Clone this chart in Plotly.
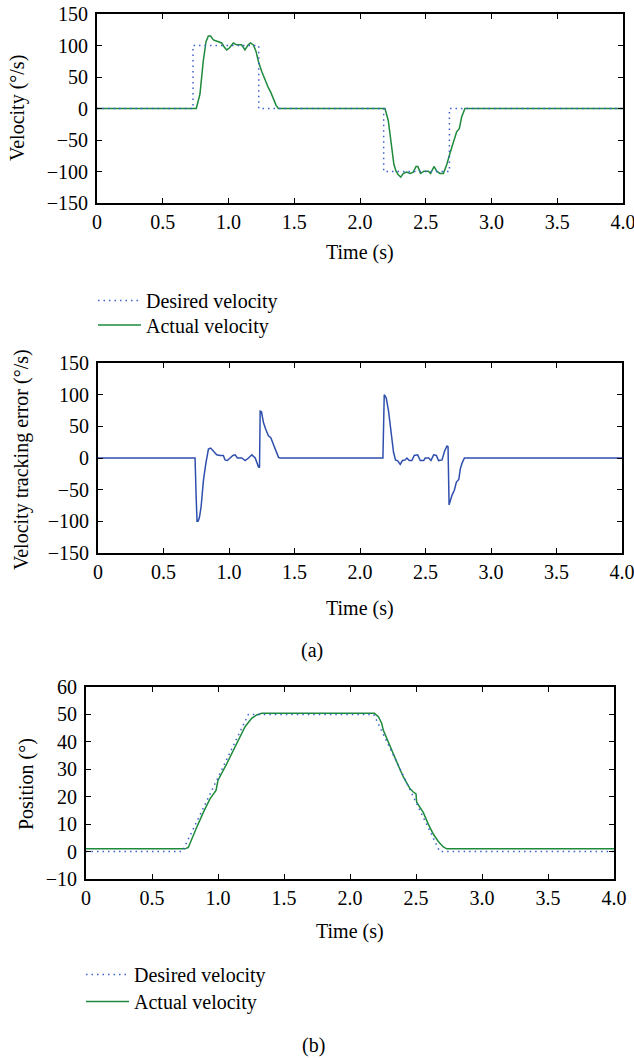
import plotly.graph_objects as go

# ---------------- data ----------------
# desired velocity (deg/s)
t_vel_desired = [0, 0.73, 0.73, 1.23, 1.23, 2.18, 2.18, 2.68, 2.68, 4.0]
vel_desired = [0, 0, 100, 100, 0, 0, -100, -100, 0, 0]

# actual velocity (deg/s)
t_vel_actual = [0, 0.755, 0.783, 0.808, 0.829, 0.847, 0.864, 0.885, 0.923, 0.948,
                0.966, 0.986, 1.006, 1.037, 1.062, 1.10, 1.125, 1.15, 1.168, 1.189,
                1.209, 1.227, 1.252, 1.278, 1.303, 1.321, 1.341, 1.362, 1.379,
                2.19, 2.215, 2.24, 2.258, 2.274, 2.29, 2.31, 2.33, 2.355, 2.38,
                2.405, 2.426, 2.44, 2.46, 2.487, 2.52, 2.537, 2.563, 2.583, 2.608,
                2.634, 2.66, 2.684, 2.71, 2.735, 2.755, 2.773, 2.798, 4.0]
vel_actual = [0, 0, 23, 75, 106, 115, 115, 109, 106, 104,
              98, 93, 96, 104, 101, 101, 93, 101, 104, 101,
              91, 75, 59, 44, 33, 26, 15, 5, 0,
              0, -19, -60, -89, -99.5, -105, -109, -103, -101, -103,
              -101, -92, -92, -103, -99.5, -99.5, -103, -92, -99.5, -103,
              -103, -89, -71, -55, -37, -32, -13.5, 0, 0]

# velocity tracking error (deg/s)
t_error = [0, 0.741, 0.749, 0.756, 0.764, 0.774, 0.787, 0.805, 0.823, 0.843,
           0.86, 0.881, 0.906, 0.932, 0.957, 0.97, 0.988, 1.008, 1.03, 1.047,
           1.064, 1.098, 1.123, 1.149, 1.174, 1.2, 1.225, 1.233, 1.238, 1.248,
           1.263, 1.281, 1.301, 1.319, 1.339, 1.36, 1.378, 1.39,
           2.175, 2.185, 2.2, 2.218, 2.236, 2.256, 2.271, 2.286, 2.307, 2.324,
           2.345, 2.358, 2.376, 2.396, 2.414, 2.44, 2.46, 2.486, 2.498, 2.524,
           2.542, 2.562, 2.583, 2.6, 2.626, 2.646, 2.664, 2.672, 2.68, 2.69,
           2.702, 2.72, 2.736, 2.754, 2.766, 2.779, 2.797, 4.0]
vel_error = [0, 0, -60, -100, -100, -94, -77, -35, -9, 14,
             15.6, 10, 5, 4, 4, -3, -4, 0, 4, 5,
             0, 0, -4, 0, 5, 0, -14, -15, 74, 73,
             56, 45, 35, 32, 22, 9, 1, 0,
             0, 100, 95, 74, 43, 9, -3, -4, -10, -4,
             -3, 0, -4, -4, 4, 5, -4, -4, 0, 0,
             -4, 5, 4, -4, -3, 11, 19, 18, -74, -67,
             -59, -51, -38, -34, -17, -8, 0, 0]

# position (deg)
t_pos_desired = [0, 0.73, 1.23, 2.18, 2.68, 4.0]
pos_desired = [0, 0, 50, 50, 0, 0]

t_pos_actual = [0, 0.75, 0.775, 0.80, 0.838, 0.889, 0.939, 0.985, 0.995, 1.0,
                1.066, 1.141, 1.205, 1.255, 1.293, 1.331, 2.184, 2.215, 2.24, 2.252,
                2.303, 2.354, 2.404, 2.455, 2.48, 2.5, 2.505, 2.555, 2.593, 2.631,
                2.669, 2.707, 2.733, 4.0]
pos_actual = [1, 1, 1.5, 4.5, 8.8, 14.3, 19.2, 22.3, 24.7, 26,
              32, 39.4, 45.5, 48.6, 49.8, 50.4, 50.4, 49.2, 46.8, 44.3,
              38.2, 32.7, 27.2, 22.9, 21.7, 21, 18, 14.3, 10, 6.4,
              3.7, 1.7, 1, 1]

# ticks
x_ticks = [0, 0.5, 1.0, 1.5, 2.0, 2.5, 3.0, 3.5, 4.0]
x_tick_labels = ["0", "0.5", "1.0", "1.5", "2.0", "2.5", "3.0", "3.5", "4.0"]
vel_ticks = [-150, -100, -50, 0, 50, 100, 150]
vel_tick_labels = ["\u2212150", "\u2212100", "\u221250", "0", "50", "100", "150"]
pos_ticks = [-10, 0, 10, 20, 30, 40, 50, 60]
pos_tick_labels = ["\u221210", "0", "10", "20", "30", "40", "50", "60"]

# ---------------- style ----------------
W, H = 634, 1058
FONT = "Liberation Serif, Times New Roman, serif"
FS = 20
GREEN = "#1e8a3c"
BLUE_LINE = "#2f4fae"
BLUE_DOT = "#3f5fd0"
DOT = "1.5px,4px"


def px(x):
    return x / W


def py(y):
    return 1 - y / H


fig = go.Figure()

# plot 1: velocity
fig.add_trace(go.Scatter(x=t_vel_actual, y=vel_actual, mode="lines", name="Actual velocity",
                         line=dict(color=GREEN, width=1.5), xaxis="x", yaxis="y",
                         legend="legend2"))
fig.add_trace(go.Scatter(x=t_vel_desired, y=vel_desired, mode="lines", name="Desired velocity",
                         line=dict(color=BLUE_DOT, width=1.5, dash=DOT), xaxis="x", yaxis="y",
                         legend="legend"))
# plot 2: error
fig.add_trace(go.Scatter(x=t_error, y=vel_error, mode="lines", name="Velocity tracking error",
                         line=dict(color=BLUE_LINE, width=1.5), xaxis="x2", yaxis="y2",
                         showlegend=False))
# plot 3: position
fig.add_trace(go.Scatter(x=t_pos_actual, y=pos_actual, mode="lines", name="Actual velocity",
                         line=dict(color=GREEN, width=1.5), xaxis="x3", yaxis="y3",
                         legend="legend4"))
fig.add_trace(go.Scatter(x=t_pos_desired, y=pos_desired, mode="lines", name="Desired velocity",
                         line=dict(color=BLUE_DOT, width=1.5, dash=DOT), xaxis="x3", yaxis="y3",
                         legend="legend3"))

axis_common = dict(showline=True, linecolor="black", linewidth=2, mirror="ticks",
                   ticks="inside", ticklen=5, tickwidth=1, tickcolor="black",
                   showgrid=False, zeroline=False, automargin=False,
                   ticklabeloverflow="allow",
                   tickfont=dict(family=FONT, size=FS, color="black"))

xdef = dict(range=[0, 4], tickvals=x_ticks, ticktext=x_tick_labels, ticklabelstandoff=0, **axis_common)
ydef = dict(ticklabelstandoff=3, **axis_common)


def legend_at(x, ytop):
    return dict(x=px(x), y=py(ytop), xanchor="left", yanchor="top",
                bgcolor="rgba(0,0,0,0)", font=dict(family=FONT, size=FS, color="black"),
                itemwidth=43)


fig.update_layout(
    width=W, height=H,
    margin=dict(l=0, r=0, t=0, b=0, autoexpand=False),
    paper_bgcolor="white", plot_bgcolor="white",
    font=dict(family=FONT, size=FS, color="black"),
    xaxis=dict(domain=[px(97), px(623)], anchor="y", **xdef),
    yaxis=dict(domain=[py(203), py(14)], anchor="x", range=[-150, 150],
               tickvals=vel_ticks, ticktext=vel_tick_labels, **ydef),
    xaxis2=dict(domain=[px(98), px(622)], anchor="y2", **xdef),
    yaxis2=dict(domain=[py(553), py(363)], anchor="x2", range=[-150, 150],
                tickvals=vel_ticks, ticktext=vel_tick_labels, **ydef),
    xaxis3=dict(domain=[px(86), px(614)], anchor="y3", **xdef),
    yaxis3=dict(domain=[py(879), py(687)], anchor="x3", range=[-10, 60],
                tickvals=pos_ticks, ticktext=pos_tick_labels, **ydef),
    legend=legend_at(93, 281),
    legend2=legend_at(93, 305.5),
    legend3=legend_at(81, 955),
    legend4=legend_at(81, 982),
    showlegend=True,
)


def label(text, x, y, angle=0):
    fig.add_annotation(text=text, x=px(x), y=py(y), xref="paper", yref="paper",
                       xanchor="center", yanchor="middle", showarrow=False,
                       textangle=angle, font=dict(family=FONT, size=FS, color="black"))


label("Velocity (\u00b0/s)", 18, 108, -90)
label("Time (s)", 360, 252)
label("Velocity tracking error (\u00b0/s)", 22, 460, -90)
label("Time (s)", 360, 608)
label("(a)", 312, 650)
label("Position (\u00b0)", 26, 784, -90)
label("Time (s)", 350, 931)
label("(b)", 313, 1045)

fig.write_html("out.html")
